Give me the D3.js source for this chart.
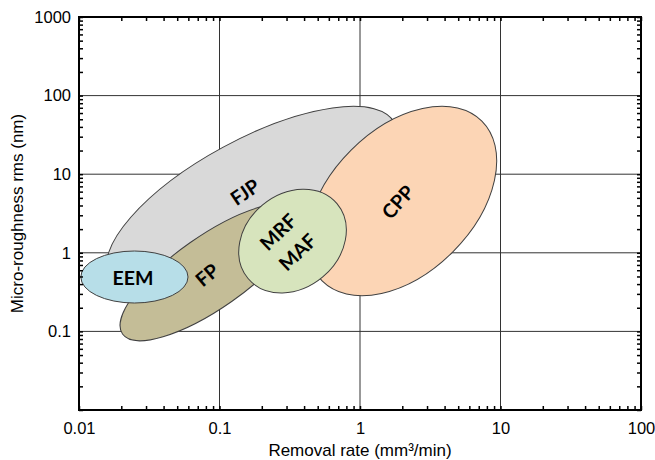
<!DOCTYPE html>
<html>
<head>
<meta charset="utf-8">
<script src="https://cdn.jsdelivr.net/npm/d3@7"></script>
<style>
  body { margin: 0; background: #fff; }
  svg { display: block; }
  .tick text { font-family: Arial, "Liberation Sans", sans-serif; font-size: 16.5px; fill: #000; }
</style>
</head>
<body>
<svg id="chart" width="655" height="460"></svg>
<script>
// decade tick labels
const rateTicks = [0.01, 0.1, 1, 10, 100];
const roughTicks = [0.1, 1, 10, 100, 1000];
const rateLabels = ["0.01", "0.1", "1", "10", "100"];
const roughLabels = ["0.1", "1", "10", "100", "1000"];

// process regions (drawing order), each ellipse given by its centre,
// the tip of its long axis and the tip of its short axis
const regions = ["FJP", "CPP", "FP", "EEM", "MRF"];
const labels = [["FJP"], ["CPP"], ["FP"], ["EEM"], ["MRF", "MAF"]];
const centerRate = [0.170, 1.99, 0.087, 0.0248, 0.331];
const centerRough = [4.70, 4.56, 0.570, 0.492, 1.41];
const tipRate = [1.76, 7.37, 0.371, 0.0597, 0.686];
const tipRough = [45.2, 47.4, 3.51, 0.492, 4.22];
const sideRate = [0.272, 4.58, 0.122, 0.0248, 0.543];
const sideRough = [1.00, 1.027, 0.240, 1.054, 0.492];
// where the name of each region sits
const labelRate = [0.152, 1.86, 0.0815, 0.0242, 0.307];
const labelRough = [5.94, 4.43, 0.522, 0.478, 1.37];

const fills = ["#d9d9d9", "#fcd5b5", "#c4bd97", "#b7dee8", "#d7e4bd"];
const labelAngle = [-34, -48, -40, 0, -44];

const svg = d3.select("#chart");
const pLeft = 79, pRight = 641, pTop = 17, pBottom = 410;

const x = d3.scaleLog().domain([0.01, 100]).range([pLeft, pRight]);
const y = d3.scaleLog().domain([0.01, 1000]).range([pBottom, pTop]);

/* grid lines at every decade */
const grid = svg.append("g").attr("stroke", "#333").attr("stroke-width", 1);
grid.selectAll(".vx").data(rateTicks.slice(1, -1)).enter().append("line")
    .attr("x1", d => x(d)).attr("x2", d => x(d)).attr("y1", pTop).attr("y2", pBottom);
grid.selectAll(".hy").data(roughTicks.slice(0, -1)).enter().append("line")
    .attr("x1", pLeft).attr("x2", pRight).attr("y1", d => y(d)).attr("y2", d => y(d));

/* ellipses */
const shapes = regions.map((r, i) => {
    const cx = x(centerRate[i]), cy = y(centerRough[i]);
    const tx = x(tipRate[i]), ty = y(tipRough[i]);
    const sx = x(sideRate[i]), sy = y(sideRough[i]);
    return {
        name: r, lines: labels[i], fill: fills[i], cx: cx, cy: cy,
        rx: Math.hypot(tx - cx, ty - cy),
        ry: Math.hypot(sx - cx, sy - cy),
        angle: Math.atan2(ty - cy, tx - cx) * 180 / Math.PI,
        lx: x(labelRate[i]), ly: y(labelRough[i]), la: labelAngle[i]
    };
});

svg.append("g").selectAll("ellipse").data(shapes).enter().append("ellipse")
    .attr("cx", d => d.cx).attr("cy", d => d.cy)
    .attr("rx", d => d.rx).attr("ry", d => d.ry)
    .attr("transform", d => `rotate(${d.angle},${d.cx},${d.cy})`)
    .attr("fill", d => d.fill)
    .attr("stroke", "#404040").attr("stroke-width", 1);

const lab = svg.append("g").selectAll("text").data(shapes).enter().append("text")
    .attr("transform", d => `translate(${d.lx},${d.ly}) rotate(${d.la})`)
    .attr("text-anchor", "middle")
    .style("font-family", "Lato, 'Open Sans', sans-serif")
    .style("font-weight", "bold")
    .style("font-size", "19.5px")
    .attr("fill", "#000");
lab.selectAll("tspan").data(d => d.lines.map((t, j) => ({t: t, j: j, n: d.lines.length})))
    .enter().append("tspan")
    .attr("x", 0)
    .attr("y", d => (d.j - (d.n - 1) / 2) * 28)
    .attr("dy", "0.36em")
    .text(d => d.t);

/* axes: minor ticks inward on all four sides */
const minorX = x.ticks(), minorY = y.ticks();
const fmtX = d => { const k = rateTicks.indexOf(d); return k < 0 ? "" : rateLabels[k]; };
const fmtY = d => { const k = roughTicks.indexOf(d); return k < 0 ? "" : roughLabels[k]; };

svg.append("g").attr("transform", `translate(0,${pBottom})`)
    .call(d3.axisBottom(x).tickValues(minorX).tickSize(-4).tickPadding(12).tickFormat(fmtX));
svg.append("g").attr("transform", `translate(0,${pTop})`)
    .call(d3.axisTop(x).tickValues(minorX).tickSize(-4).tickFormat(""));
svg.append("g").attr("transform", `translate(${pLeft},0)`)
    .call(d3.axisLeft(y).tickValues(minorY).tickSize(-4).tickPadding(8).tickFormat(fmtY));
svg.append("g").attr("transform", `translate(${pRight},0)`)
    .call(d3.axisRight(y).tickValues(minorY).tickSize(-4).tickFormat(""));

svg.selectAll(".domain").remove();
svg.selectAll(".tick line").attr("stroke", "#000").attr("stroke-width", 1.5);

/* frame */
svg.append("rect").attr("x", pLeft).attr("y", pTop)
    .attr("width", pRight - pLeft).attr("height", pBottom - pTop)
    .attr("fill", "none").attr("stroke", "#000").attr("stroke-width", 2);

/* axis titles */
svg.append("text").attr("x", (pLeft + pRight) / 2).attr("y", 456)
    .attr("text-anchor", "middle")
    .style("font-family", "Arial, 'Liberation Sans', sans-serif").style("font-size", "17px")
    .text("Removal rate (mm³/min)");
svg.append("text").attr("transform", `translate(23,${(pTop + pBottom) / 2}) rotate(-90)`)
    .attr("text-anchor", "middle")
    .style("font-family", "Arial, 'Liberation Sans', sans-serif").style("font-size", "17px")
    .text("Micro-roughness rms (nm)");
</script>
</body>
</html>
